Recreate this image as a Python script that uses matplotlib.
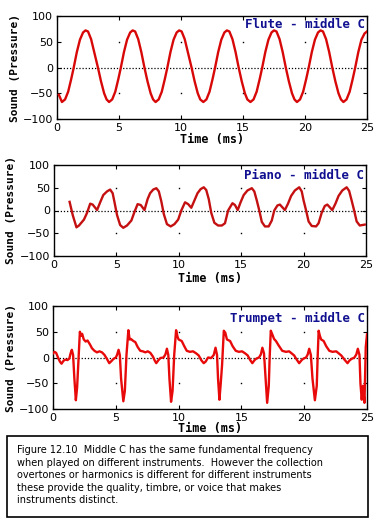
import matplotlib
matplotlib.use("Agg")
import matplotlib.pyplot as plt
from matplotlib.patches import Rectangle

# ---------------- data ----------------
flute_t = [0.15, 0.4, 0.65, 0.9, 1.15, 1.35, 1.6, 1.85, 2.1, 2.3, 2.5, 2.75, 3.0, 3.3, 3.55, 3.8, 4.0,
           4.2, 4.45, 4.7, 4.95, 5.15, 5.4, 5.65, 5.9, 6.1, 6.3, 6.55, 6.8, 7.05, 7.3, 7.55, 7.75,
           7.95, 8.2, 8.45, 8.7, 8.9, 9.15, 9.4, 9.65, 9.85, 10.05, 10.3, 10.55, 10.85, 11.1, 11.35, 11.55,
           11.8, 12.05, 12.3, 12.55, 12.75, 13.0, 13.25, 13.5, 13.7, 13.9, 14.15, 14.4, 14.65, 14.9, 15.15, 15.35,
           15.6, 15.85, 16.1, 16.35, 16.55, 16.8, 17.05, 17.3, 17.5, 17.7, 17.95, 18.2, 18.45, 18.7, 18.95, 19.15,
           19.35, 19.6, 19.85, 20.1, 20.3, 20.55, 20.8, 21.05, 21.25, 21.45, 21.7, 21.95, 22.2, 22.45, 22.7, 22.9,
           23.1, 23.35, 23.6, 23.85, 24.05, 24.3, 24.55, 24.8, 25.0]
flute_v = [-53, -67, -62, -47, -22, 0, 30, 54, 68, 72, 70, 55, 30, 0, -27, -50, -62,
           -67, -62, -47, -22, 0, 30, 54, 68, 72, 70, 55, 30, 0, -27, -50, -62,
           -67, -62, -47, -22, 0, 30, 54, 68, 72, 70, 55, 30, 0, -27, -50, -62,
           -67, -62, -47, -22, 0, 30, 54, 68, 72, 70, 55, 30, 0, -27, -50, -62,
           -67, -62, -47, -22, 0, 30, 54, 68, 72, 70, 55, 30, 0, -27, -50, -62,
           -67, -62, -47, -22, 0, 30, 54, 68, 72, 70, 55, 30, 0, -27, -50, -62,
           -67, -62, -47, -22, 0, 30, 54, 66, 70]

piano_t = [1.25, 1.5, 1.8, 2.0, 2.4, 2.65, 2.9, 3.1, 3.45, 3.7, 3.95, 4.25, 4.5, 4.7, 4.85, 5.05, 5.3, 5.55,
           5.85, 6.2, 6.45, 6.7, 6.95, 7.25, 7.5, 7.7, 7.95, 8.2, 8.4, 8.6, 8.8, 9.05, 9.35, 9.65, 9.95,
           10.2, 10.5, 10.75, 11.0, 11.25, 11.5, 11.75, 12.0, 12.2, 12.4, 12.6, 12.85, 13.15, 13.45, 13.7,
           13.95, 14.3, 14.5, 14.72, 14.95, 15.2, 15.5, 15.85, 16.05, 16.25, 16.45, 16.65, 16.9, 17.2, 17.45,
           17.65, 17.9, 18.1, 18.5, 18.75, 19.0, 19.3, 19.65, 19.85, 20.0, 20.2, 20.4, 20.65, 21.0, 21.2,
           21.45, 21.7, 21.9, 22.3, 22.55, 22.8, 23.1, 23.45, 23.65, 23.85, 24.05, 24.25, 24.5, 24.9]
piano_v = [19, -10, -37, -33, -20, -5, 15, 13, 1, 18, 34, 42, 46, 38, 18, -10, -32, -38,
           -33, -22, -3, 14, 12, 1, 25, 38, 46, 49, 42, 20, -8, -30, -35, -30, -20,
           0, 18, 14, 6, 22, 38, 47, 51, 45, 25, -5, -27, -33, -33, -28,
           0, 16, 12, 1, 18, 34, 44, 49, 42, 22, 0, -25, -35, -35, -22,
           0, 11, 13, 1, 15, 32, 44, 51, 42, 22, 0, -24, -34, -35, -28,
           -5, 10, 13, 1, 15, 32, 44, 51, 43, 22, 0, -24, -33, -31]

trumpet_t = [0.0, 0.12, 0.25, 0.4, 0.55, 0.68, 0.85, 1.0, 1.15, 1.3, 1.4, 1.5, 1.6, 1.7, 1.82, 1.92, 2.02,
             2.14, 2.24, 2.32, 2.45, 2.6, 2.75, 2.95, 3.1, 3.3, 3.5, 3.7, 3.9, 4.1, 4.3, 4.48, 4.65, 4.8,
             5.0, 5.1, 5.22, 5.32, 5.42, 5.6, 5.72, 5.85, 6.0, 6.1, 6.2, 6.4, 6.55, 6.75, 6.95, 7.15, 7.35,
             7.55, 7.75, 7.95, 8.1, 8.22, 8.4, 8.55, 8.8, 8.95, 9.07, 9.18, 9.27, 9.4, 9.52, 9.65, 9.8, 9.92,
             10.0, 10.25, 10.45, 10.65, 10.9, 11.15, 11.4, 11.6, 11.8, 12.0, 12.15, 12.35, 12.6, 12.8, 12.94,
             13.06, 13.14, 13.25, 13.34, 13.46, 13.6, 13.72, 13.85, 14.1, 14.3, 14.55, 14.8, 15.05, 15.3,
             15.5, 15.7, 15.87, 16.05, 16.2, 16.4, 16.55, 16.67, 16.8, 16.93, 17.05, 17.18, 17.25, 17.34,
             17.46, 17.6, 17.75, 17.95, 18.25, 18.55, 18.8, 19.0, 19.2, 19.4, 19.6, 19.8, 19.95, 20.15,
             20.28, 20.4, 20.53, 20.66, 20.85, 21.0, 21.07, 21.15, 21.25, 21.35, 21.55, 21.75, 22.0, 22.25,
             22.55, 22.75, 22.95, 23.2, 23.45, 23.6, 23.75, 24.0, 24.15, 24.27, 24.4, 24.48, 24.58, 24.68,
             24.8, 24.9, 25.0]
trumpet_v = [8, 11, 9, 0, -8, -12, -6, -4, -5, -2, 8, 15, 5, -40, -83, -58, -10,
             50, 42, 46, 35, 31, 33, 25, 18, 13, 10, 12, 10, 5, -3, -11, -7, -3,
             0, 5, 15, 5, -41, -85, -65, 5, 53, 35, 36, 32, 30, 20, 13, 12, 10,
             12, 9, 2, -6, -11, -5, -1, 0, 6, 17, 5, -41, -86, -65, 5, 53, 40,
             35, 32, 22, 13, 11, 12, 8, 4, -5, -11, -8, 0, -1, 5, 19,
             5, -41, -82, -55, -15, 52, 48, 35, 32, 22, 13, 11, 12, 8,
             4, -5, -11, -5, -2, 0, 6, 19, 8, -41, -88, -55, 0, 52,
             45, 36, 32, 24, 13, 11, 12, 8, 4, -4, -11, -5, -2, 0,
             6, 17, 5, -41, -83, -55, 0, 52, 42, 35, 32, 22, 13, 11,
             12, 8, 4, -4, -11, -6, -3, 0, 6, 17, 5, -51, -82, -55,
             -88, 20, 45]

titles = ["Flute - middle C", "Piano - middle C", "Trumpet - middle C"]
x_ticks = [0, 5, 10, 15, 20, 25]
y_ticks = [-100, -50, 0, 50, 100]
caption_lines = [
    "Figure 12.10  Middle C has the same fundamental frequency",
    "when played on different instruments.  However the collection",
    "overtones or harmonics is different for different instruments",
    "these provide the quality, timbre, or voice that makes",
    "instruments distinct.",
]

# ---------------- layout ----------------
W, H = 386, 520
fig = plt.figure(figsize=(W / 100, H / 100), dpi=100)
fig.patch.set_facecolor("white")

# (left, right, top, bottom) in pixels
boxes = [(57, 367, 16, 119), (54, 366, 165, 256), (53, 367, 306, 409)]
series = [(flute_t, flute_v, "#d80808"), (piano_t, piano_v, "#c41010"), (trumpet_t, trumpet_v, "#e80a0a")]
title_y = [0.92, 0.89, 0.88]
ylab_x = [20, 16, 16]
xlab_top = [133, 272, 422]

mono = "DejaVu Sans Mono"
for i, ((l, r, t, b), (xs, ys, col)) in enumerate(zip(boxes, series)):
    ax = fig.add_axes([l / W, 1 - b / H, (r - l) / W, (b - t) / H])
    ax.set_xlim(0, 25)
    ax.set_ylim(-100, 100)
    ax.axhline(0, color="black", lw=0.9, ls=(0, (1, 1.5)), zorder=1)
    # faint grid dots at tick intersections
    for gx in x_ticks[1:-1]:
        for gy in [-50, 50]:
            ax.plot([gx], [gy], marker="s", ms=1.0, color="black", mec="none", zorder=1)
    ax.plot(xs, ys, color=col, lw=1.7, zorder=3, solid_joinstyle="round")
    ax.set_xticks(x_ticks)
    ax.set_yticks(y_ticks)
    ax.tick_params(direction="in", length=3, width=0.8, top=True, right=True,
                   labelsize=8, pad=3)
    for lab in ax.get_xticklabels() + ax.get_yticklabels():
        lab.set_family("DejaVu Sans")
    for sp in ax.spines.values():
        sp.set_linewidth(1.0)
    ax.set_xlabel("Time (ms)", fontsize=8.5, fontweight="bold", family=mono)
    ax.xaxis.set_label_coords(0.5, -(xlab_top[i] - b) / (b - t))
    ax.set_ylabel("Sound (Pressure)", fontsize=8, fontweight="bold", family=mono)
    ax.yaxis.set_label_coords((ylab_x[i] - l) / (r - l), 0.5)
    ax.text(0.995, title_y[i], titles[i], transform=ax.transAxes, ha="right", va="center",
            fontsize=9, fontweight="bold", family=mono, color="#101090", zorder=4)

# caption box
fig.patches.append(Rectangle((7 / W, 1 - 517 / H), 361 / W, 81 / H, transform=fig.transFigure,
                             facecolor="white", edgecolor="black", lw=1.2))
fig.text(17 / W, 1 - 445 / H, "\n".join(caption_lines), ha="left", va="top",
         fontsize=7, family="DejaVu Sans", linespacing=1.32)

fig.savefig("out.png", dpi=100)
